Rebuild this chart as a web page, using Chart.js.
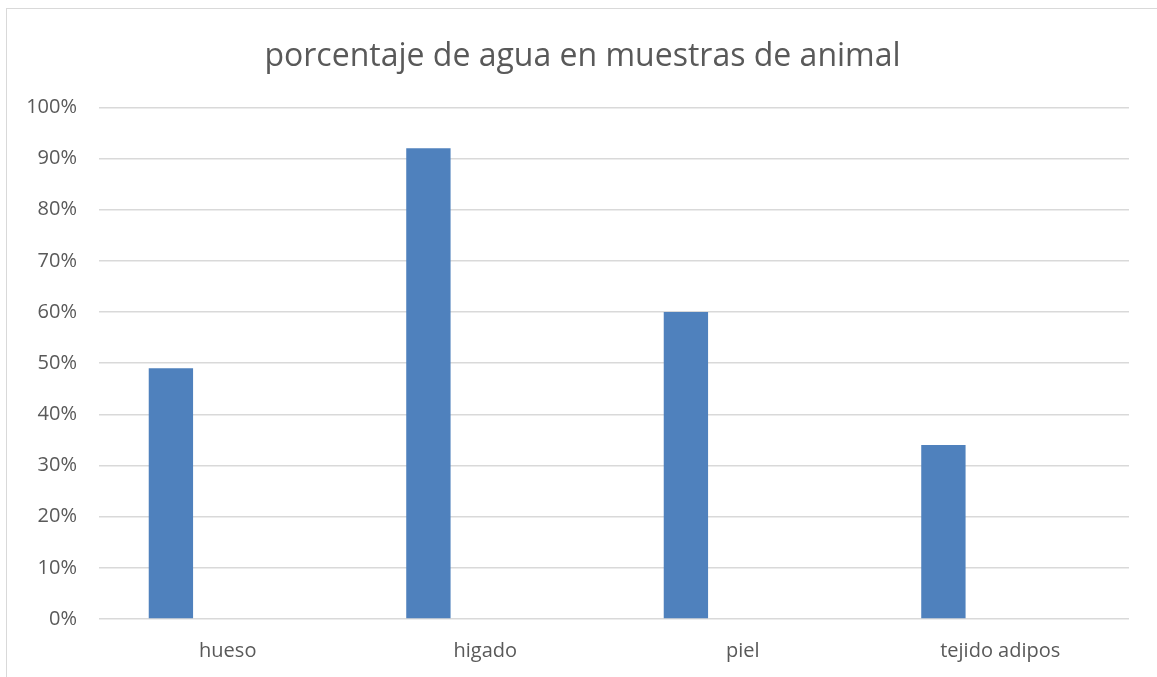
<!DOCTYPE html>
<html lang="es">
<head>
<meta charset="utf-8">
<title>porcentaje de agua en muestras de animal</title>
<script src="https://cdn.jsdelivr.net/npm/chart.js@4/dist/chart.umd.min.js"></script>
<style>
   html, body {
      margin: 0;
      padding: 0;
      background: #ffffff;
      overflow: hidden;
   }

   .chart-frame {
      position: absolute;
      left: 6px;
      top: 8px;
      width: 1153px;
      height: 680px;
      border: 1px solid #d9d9d9;
      box-sizing: border-box;
   }

   .chart-frame canvas {
      display: block;
   }
</style>
</head>
<body>
<div class="chart-frame">
   <canvas id="waterChart" width="1151" height="678"></canvas>
</div>

<script>
const categories = ["hueso", "higado", "piel", "tejido adipos"];
const waterPercent = [49, 92, 60, 34];
const emptySeries = [null, null, null, null];
const yTicks = [0, 10, 20, 30, 40, 50, 60, 70, 80, 90, 100];

const textColor = "#595959";
const gridColor = "#d9d9d9";
const barColor = "#4f81bd";
const fontFamily = "'Open Sans', 'Liberation Sans', sans-serif";

document.addEventListener("DOMContentLoaded", renderWaterChart);

function renderWaterChart() {
   const canvas = document.getElementById("waterChart");
   if (!canvas || typeof Chart === "undefined") return;

   new Chart(canvas, {
      type: "bar",
      data: {
         labels: categories,
         datasets: [
            {
               label: "Serie 1",
               data: waterPercent,
               backgroundColor: barColor,
               borderWidth: 0,
               categoryPercentage: 0.883,
               barPercentage: 0.39
            },
            {
               label: "Serie 2",
               data: emptySeries,
               backgroundColor: "#c0504d",
               borderWidth: 0,
               categoryPercentage: 0.883,
               barPercentage: 0.39
            }
         ]
      },
      options: {
         responsive: false,
         animation: false,
         layout: {
            padding: 0
         },
         plugins: {
            legend: { display: false },
            tooltip: { enabled: false },
            title: {
               display: true,
               text: "porcentaje de agua en muestras de animal",
               color: textColor,
               font: { family: fontFamily, size: 32, weight: "normal" },
               padding: { top: 29, bottom: 31 }
            }
         },
         scales: {
            x: {
               grid: { display: false, drawTicks: false },
               border: { display: false },
               ticks: {
                  color: textColor,
                  font: { family: fontFamily, size: 20 },
                  padding: 20
               },
               afterFit(scale) {
                  scale.height = 68;
               }
            },
            y: {
               min: 0,
               max: 100,
               afterBuildTicks(scale) {
                  scale.ticks = yTicks.map((value) => ({ value }));
               },
               grid: {
                  color: gridColor,
                  lineWidth: 1.5,
                  drawTicks: false
               },
               border: { display: false },
               ticks: {
                  color: textColor,
                  font: { family: fontFamily, size: 20 },
                  padding: 22,
                  callback(value) {
                     return value + "%";
                  }
               },
               afterFit(scale) {
                  scale.width = 92;
               }
            },
            // blank margin on the right of the plot, keeps the title centred on the frame
            rightMargin: {
               type: "linear",
               position: "right",
               grid: { display: false, drawTicks: false },
               border: { display: false },
               ticks: { display: false },
               afterFit(scale) {
                  scale.width = 29;
               }
            }
         }
      }
   });
}
</script>
</body>
</html>
